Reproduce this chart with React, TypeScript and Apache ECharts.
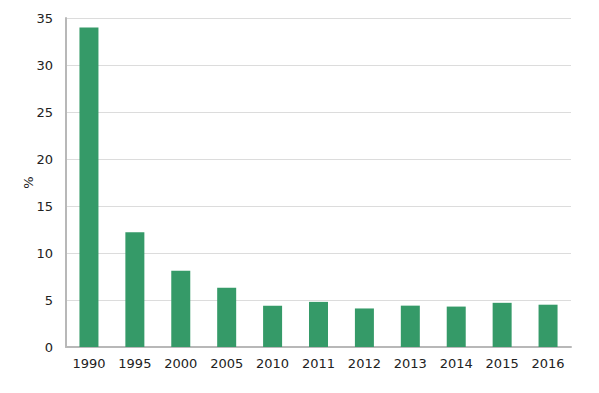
import React, { useEffect, useRef } from "react";
import * as echarts from "echarts";

const categories = ["1990", "1995", "2000", "2005", "2010", "2011", "2012", "2013", "2014", "2015", "2016"];
const values = [34.0, 12.2, 8.1, 6.3, 4.4, 4.8, 4.1, 4.4, 4.3, 4.7, 4.5];
const yTicks = { min: 0, max: 35, interval: 5 };

export default function App() {
  const ref = useRef<HTMLDivElement>(null);
  useEffect(() => {
    if (!ref.current) return;
    const chart = echarts.init(ref.current, null, { renderer: "svg" });
    chart.setOption({
      animation: false,
      grid: { left: 58, right: 20, top: 10, bottom: 38, containLabel: false },
      xAxis: {
        type: "category",
        data: categories,
        axisLine: { show: true, lineStyle: { color: "#b8b8b8", width: 2 } },
        axisTick: { show: false },
        axisLabel: { color: "#222", fontSize: 13, fontFamily: "DejaVu Sans", margin: 10 },
      },
      yAxis: {
        type: "value",
        min: yTicks.min,
        max: yTicks.max,
        interval: yTicks.interval,
        name: "%",
        nameLocation: "middle",
        nameGap: 31,
        nameMoveOverlap: false,
        nameRotate: 90,
        nameTextStyle: { color: "#222", fontSize: 13, fontFamily: "DejaVu Sans" },
        axisLine: { show: true, lineStyle: { color: "#b8b8b8", width: 2 } },
        axisTick: { show: false },
        axisLabel: { color: "#222", fontSize: 13, fontFamily: "DejaVu Sans", margin: 13 },
        splitLine: { show: true, lineStyle: { color: "#dcdcdc", width: 1 } },
      },
      series: [
        {
          type: "bar",
          data: values,
          barWidth: 19,
          itemStyle: { color: "#359a68" },
        },
      ],
    });
    return () => chart.dispose();
  }, []);
  return <div ref={ref} style={{ width: 583, height: 377 }} />;
}
